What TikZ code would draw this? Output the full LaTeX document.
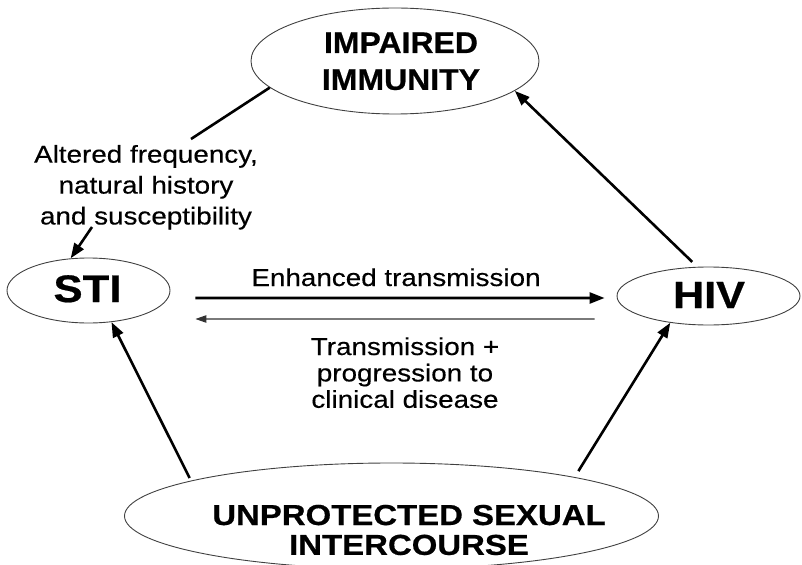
\documentclass[tikz,border=0pt]{standalone}
\usepackage{fontspec}
\setmainfont{Liberation Sans}
\newfontfamily\labfont[FakeStretch=1.14,FakeBold=0.35]{Liberation Sans}
\newfontfamily\hdA[FakeStretch=1.07,FakeBold=0.6]{Liberation Sans}
\newfontfamily\hdB[FakeStretch=1.14,FakeBold=0.6]{Liberation Sans}
\usetikzlibrary{arrows.meta,shapes.geometric}
\tikzset{
  oval/.style={ellipse, draw=black!75, line width=0.9bp, inner sep=0pt},
  txt/.style={anchor=base, inner sep=0pt, text=black},
  thkline/.style={line width=2.6bp, line cap=butt},
  thk/.style={line width=2.6bp, -{Triangle[length=15bp,width=11bp]}},
  thn/.style={line width=1.1bp, draw=black!80, -{Triangle[length=11bp,width=7.5bp]}},
}
\begin{document}
\begin{tikzpicture}[x=1bp,y=-1bp]
\useasboundingbox (0,0) rectangle (802,565);
% ovals
\node[oval, minimum width=288bp, minimum height=106bp] (imp) at (395,61) {};
\node[oval, minimum width=163bp, minimum height=65bp] (sti) at (88.5,290.5) {};
\node[oval, minimum width=183bp, minimum height=58bp] (hiv) at (708.5,296) {};
\node[oval, minimum width=534bp, minimum height=106bp] (usi) at (391.5,516) {};
% texts
\node[txt, font=\hdA\bfseries\fontsize{30}{37}\selectfont] (impt) at (401,53)
  {\begin{tabular}[t]{@{}c@{}}IMPAIRED\\IMMUNITY\end{tabular}};
\node[txt, font=\hdB\bfseries\fontsize{38.5}{44}\selectfont] (stit) at (87.5,302) {STI};
\node[txt, font=\hdB\bfseries\fontsize{38}{44}\selectfont] (hivt) at (709,308) {HIV};
\node[txt, font=\hdB\bfseries\fontsize{29}{30}\selectfont] (usit) at (409,525)
  {\begin{tabular}[t]{@{}c@{}}UNPROTECTED SEXUAL\\INTERCOURSE\end{tabular}};
\node[txt, font=\labfont\fontsize{24.5}{31}\selectfont] (altt) at (146,162.7)
  {\begin{tabular}[t]{@{}c@{}}Altered frequency,\\natural history\\and susceptibility\end{tabular}};
\node[txt, font=\labfont\fontsize{24.5}{30}\selectfont] (enht) at (396,286) {Enhanced transmission};
\node[txt, font=\labfont\fontsize{24.5}{26.5}\selectfont] (trat) at (405,355)
  {\begin{tabular}[t]{@{}c@{}}Transmission +\\progression to\\clinical disease\end{tabular}};
% free ends
\coordinate (altin) at (191,139);
\coordinate (altout) at (92,227);
% connectors
\draw[thkline] (imp.192) -- (altin);
\draw[thk] (altout) -- (sti.119);
\draw[thk, shorten <=7bp] (hiv.111) -- (imp.-14);
\draw[thk] ([xshift=25bp,yshift=-7.5bp]sti.east) -- ([xshift=-12bp,yshift=-2bp]hiv.west);
\draw[thn] ([xshift=-22bp,yshift=-23bp]hiv.west) -- ([xshift=25bp,yshift=-28.5bp]sti.east);
\draw[thk, shorten <=3bp] (usi.170) -- (sti.-54);
\draw[thk, shorten <=7bp] (usi.12) -- (hiv.215);
\end{tikzpicture}
\end{document}
